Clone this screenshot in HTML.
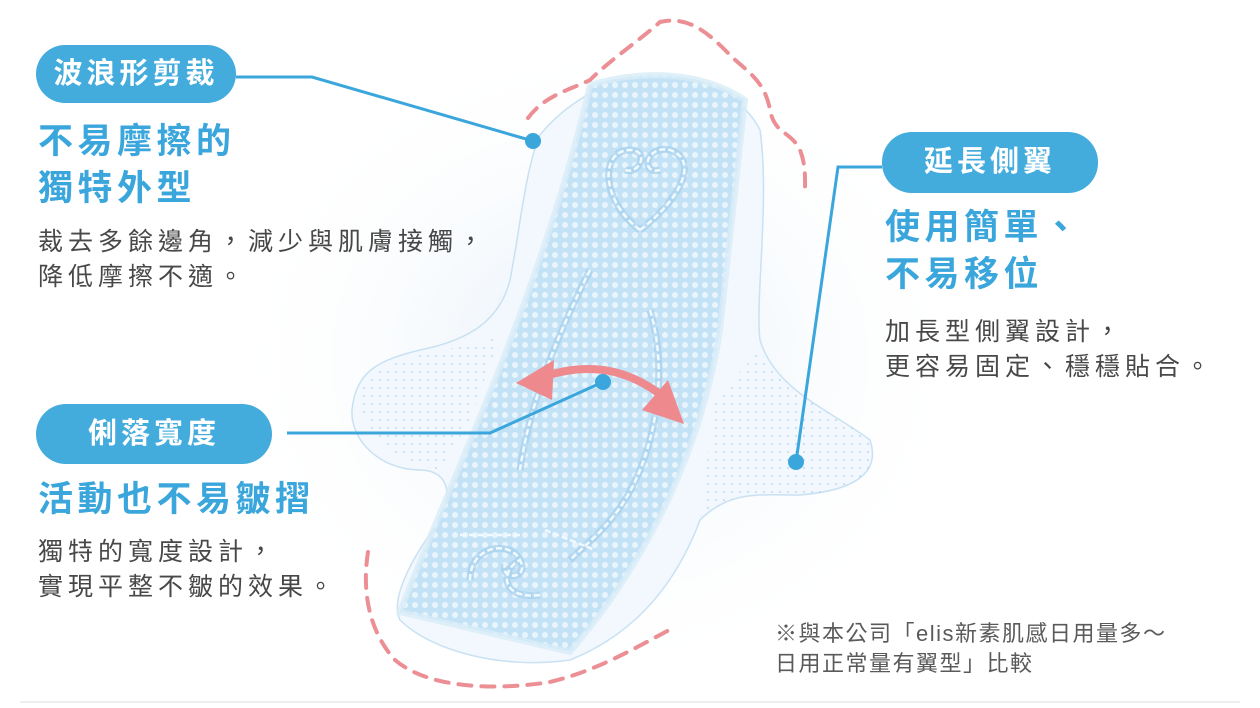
<!DOCTYPE html>
<html><head><meta charset="utf-8"><style>
body{margin:0;width:1260px;height:708px;overflow:hidden;background:#fff;font-family:"Liberation Sans","Noto Sans CJK TC",sans-serif;}
.t{position:absolute;white-space:nowrap;}
.pill{position:absolute;background:#43acdc;color:#fff;font-weight:bold;border-radius:30px;text-align:center;font-size:29px;letter-spacing:4px;}
.h{color:#3aa6dc;font-weight:bold;font-size:35px;letter-spacing:4.5px;line-height:47px;}
.b{color:#484848;font-size:25px;letter-spacing:5px;line-height:35px;}
.n{color:#5a5a5a;font-size:22px;letter-spacing:1.5px;line-height:30px;}
</style></head><body>
<svg width="1260" height="708" style="position:absolute;left:0;top:0">
<defs>
<radialGradient id="bg" cx="0.5" cy="0.5" r="0.5"><stop offset="0" stop-color="#e3eef8"/><stop offset="1" stop-color="#fff" stop-opacity="0"/></radialGradient>
<pattern id="dots" width="10" height="10" patternUnits="userSpaceOnUse"><rect width="10" height="10" fill="#c4e2f6"/><circle cx="5" cy="5" r="3" fill="#e9f5fd"/></pattern>
<pattern id="fd" width="8" height="8" patternUnits="userSpaceOnUse"><circle cx="4" cy="4" r="0.9" fill="#a8cbe6"/></pattern>
</defs>
<rect x="0" y="0" width="1260" height="708" fill="#fff"/>
<ellipse cx="600" cy="360" rx="380" ry="330" fill="url(#bg)"/>
<line x1="20" y1="702" x2="1240" y2="702" stroke="#eee" stroke-width="2"/>
<path d="M540,135 C560,110 600,80 640,78 C690,75 740,90 760,130 C770,200 755,300 760,340 C775,390 830,410 870,440 C880,470 860,490 800,495 C760,495 730,490 700,520 C670,600 620,640 570,660 C500,670 430,650 400,620 C390,600 410,560 440,520 C455,490 445,470 420,470 C380,470 350,440 352,410 C356,370 380,360 420,350 C470,340 500,320 510,280 C520,230 525,170 540,135 Z" fill="#f2f8fd" stroke="#c9e1f2" stroke-width="1.5"/>
<path d="M760,350 C780,390 830,410 870,440 C880,470 860,490 800,495 C760,495 730,490 700,520 L715,400 Z" fill="url(#fd)" opacity="0.9"/>
<path d="M500,335 C470,350 400,350 365,380 C350,420 380,460 440,470 L470,420 Z" fill="url(#fd)" opacity="0.9"/>
<path d="M590,85 C640,70 700,70 745,100 L720,330 C700,460 640,570 570,652 L400,612 C450,480 540,300 590,85 Z" fill="url(#dots)"/>
<path d="M590,85 C640,70 700,70 745,100 L720,330 C700,460 640,570 570,652 L400,612 C450,480 540,300 590,85 Z" fill="none" stroke="#d8ecf8" stroke-width="6" opacity="0.8"/>
<g fill="none" stroke="#9fcdeb" stroke-width="7" opacity="0.6">
<path d="M640,230 C600,200 600,150 630,150 C650,150 640,175 625,170"/>
<path d="M640,230 C680,200 700,160 670,150 C645,145 640,175 660,170"/>
<path d="M590,270 C560,330 530,400 520,470"/>
<path d="M650,310 C665,360 660,420 640,470 C620,520 590,540 570,560"/>
<path d="M470,580 C470,545 510,540 520,560 C530,580 500,580 505,565"/>
<path d="M540,595 C500,600 500,570 520,560"/>
</g>
<g fill="none" stroke="#f2faff" stroke-width="2.5" stroke-dasharray="6 3">
<path d="M640,230 C600,200 600,150 630,150 C650,150 640,175 625,170"/>
<path d="M640,230 C680,200 700,160 670,150 C645,145 640,175 660,170"/>
<path d="M590,270 C560,330 530,400 520,470"/>
<path d="M650,310 C665,360 660,420 640,470 C620,520 590,540 570,560"/>
<path d="M470,580 C470,545 510,540 520,560 C530,580 500,580 505,565"/>
<path d="M540,595 C500,600 500,570 520,560"/>
<path d="M460,535 L520,535"/>
<path d="M545,530 L595,550"/>
</g>
<g fill="none" stroke="#ec8f95" stroke-width="4" stroke-dasharray="13 10" stroke-linecap="round">
<path d="M528,118 C545,95 570,90 590,80 C610,60 640,40 660,22 C690,15 710,35 730,55 C745,70 765,80 770,110 C775,135 790,130 800,150 C806,165 805,180 805,190"/>
<path d="M368,552 C362,590 368,630 395,660 C430,690 500,690 550,682 C600,670 640,645 675,627"/>
</g>
<path d="M540,378 C590,360 630,370 665,398" fill="none" stroke="#ee8a8d" stroke-width="8"/>
<polygon points="516,383 554,360 552,400" fill="#ee8a8d"/>
<polygon points="684,424 642,410 668,380" fill="#ee8a8d"/>
<g stroke="#3aa6dc" stroke-width="3" fill="none">
<polyline points="236,77 312,77 533,141"/>
<polyline points="287,433 490,433 603,382"/>
<polyline points="882,167 838,167 796,462"/>
</g>
<g fill="#3aa6dc"><circle cx="533" cy="141" r="8"/><circle cx="603" cy="382" r="8"/><circle cx="796" cy="462" r="8"/></g>
</svg>
<div class="pill" style="left:36px;top:45px;width:200px;height:58px;line-height:58px;">波浪形剪裁</div>
<div class="t h" style="left:38px;top:118px;">不易摩擦的<br>獨特外型</div>
<div class="t b" style="left:38px;top:225px;">裁去多餘邊角，減少與肌膚接觸，<br>降低摩擦不適。</div>
<div class="pill" style="left:36px;top:404px;width:236px;height:60px;line-height:60px;">俐落寬度</div>
<div class="t h" style="left:38px;top:476px;">活動也不易皺摺</div>
<div class="t b" style="left:38px;top:535px;">獨特的寬度設計，<br>實現平整不皺的效果。</div>
<div class="pill" style="left:882px;top:132px;width:216px;height:61px;line-height:61px;">延長側翼</div>
<div class="t h" style="left:885px;top:204px;">使用簡單、<br>不易移位</div>
<div class="t b" style="left:885px;top:315px;">加長型側翼設計，<br>更容易固定、穩穩貼合。</div>
<div class="t n" style="left:775px;top:619px;">※與本公司「elis新素肌感日用量多～<br>日用正常量有翼型」比較</div>
</body></html>
